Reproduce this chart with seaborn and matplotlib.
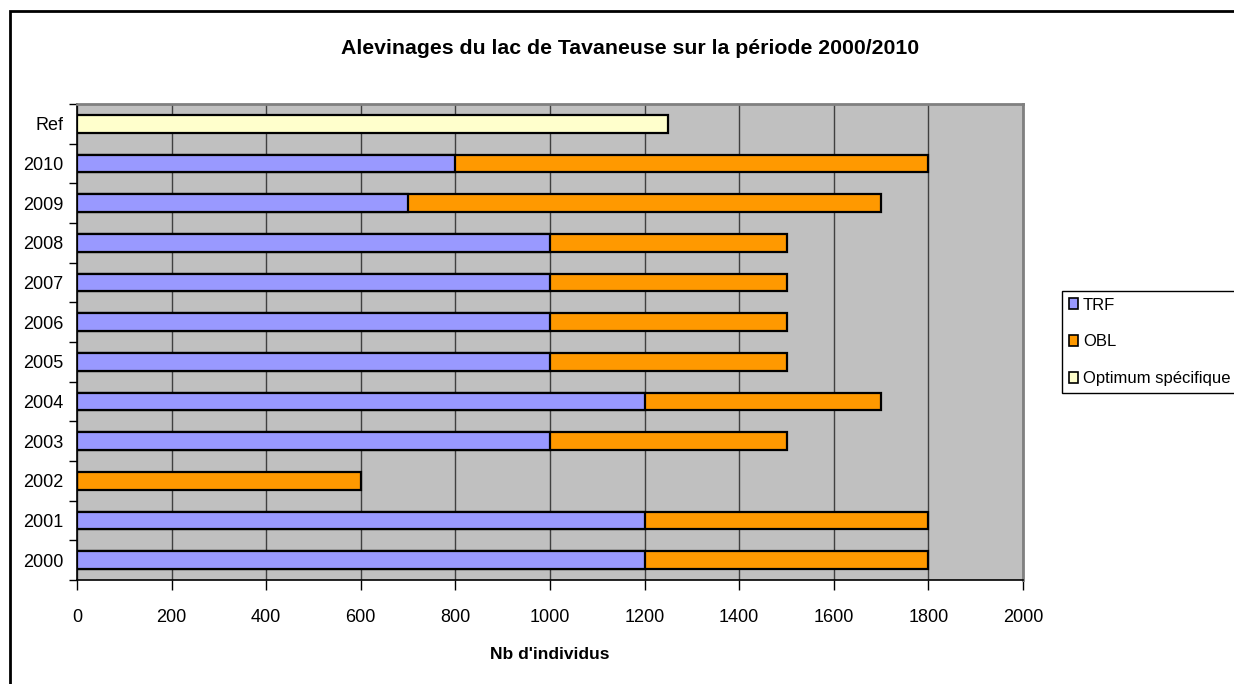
import numpy as np
import pandas as pd
import matplotlib
matplotlib.use("Agg")
import matplotlib.pyplot as plt
from matplotlib.patches import Patch, Rectangle
from matplotlib.ticker import FixedLocator
import seaborn as sns

# data
categories = ["Ref", "2010", "2009", "2008", "2007", "2006", "2005",
              "2004", "2003", "2002", "2001", "2000"]
trf = [np.nan, 800, 700, 1000, 1000, 1000, 1000, 1200, 1000, 0, 1200, 1200]
obl = [np.nan, 1000, 1000, 500, 500, 500, 500, 500, 500, 600, 600, 600]
optimum = [1250] + [np.nan] * 11
x_ticks = list(range(0, 2001, 200))

df = pd.DataFrame({"annee": categories, "TRF": trf, "OBL": obl, "Optimum": optimum})
df["total"] = df["TRF"] + df["OBL"]

sns.set_style("white")
plt.rcParams["font.family"] = ["Liberation Sans", "DejaVu Sans"]
plt.rcParams.update({"text.color": "black", "axes.labelcolor": "black",
                     "xtick.color": "black", "ytick.color": "black"})

fig = plt.figure(figsize=(12.34, 6.84), dpi=100)
ax = fig.add_axes([77 / 1234, 1 - 580 / 684, (1023 - 77) / 1234, (580 - 104) / 684])
ax.set_facecolor("#C0C0C0")

bar_kw = dict(orient="h", order=categories, width=0.44, edgecolor="black",
              linewidth=1.6, ax=ax)
sns.barplot(data=df, x="total", y="annee", color="#FF9900", saturation=1, **bar_kw)
sns.barplot(data=df, x="TRF", y="annee", color="#9999FF", saturation=1, **bar_kw)
sns.barplot(data=df, x="Optimum", y="annee", color="#FFFFCC", saturation=1, **bar_kw)

ax.set_xlim(0, 2000)
ax.set_xticks(x_ticks)
ax.set_axisbelow(True)
ax.xaxis.grid(True, color="#404040", linewidth=1)
ax.yaxis.grid(False)

# Excel-style category ticks between bars
ax.yaxis.set_minor_locator(FixedLocator(np.arange(-0.5, len(categories), 1.0)))
ax.tick_params(axis="y", which="major", length=0, pad=10, labelsize=13)
ax.tick_params(axis="y", which="minor", length=6, width=1, color="black", left=True)
ax.tick_params(axis="x", which="major", length=7, width=1, color="black",
               bottom=True, pad=14, labelsize=13)

for side in ["left", "bottom"]:
    ax.spines[side].set_color("black")
    ax.spines[side].set_linewidth(1.2)
for side in ["top", "right"]:
    ax.spines[side].set_color("#808080")
    ax.spines[side].set_linewidth(2)

ax.set_ylabel("")
ax.set_xlabel("Nb d'individus", fontsize=12.5, fontweight="bold", labelpad=15)

fig.text(630 / 1234, 1 - 49 / 684, "Alevinages du lac de Tavaneuse sur la période 2000/2010",
         ha="center", va="center", fontsize=15.3, fontweight="bold")

handles = [Patch(facecolor="#9999FF", edgecolor="black", linewidth=1.2, label="TRF"),
           Patch(facecolor="#FF9900", edgecolor="black", linewidth=1.2, label="OBL"),
           Patch(facecolor="#FFFFCC", edgecolor="black", linewidth=1.2,
                 label="Optimum spécifique")]
leg = fig.legend(handles=handles, loc="upper left",
                 bbox_to_anchor=(1062 / 1234, 1 - 291 / 684), fontsize=12,
                 frameon=True, fancybox=False, edgecolor="black", framealpha=1,
                 handlelength=0.55, handleheight=0.65, handletextpad=0.3,
                 labelspacing=1.3, borderpad=0.4, borderaxespad=0)
leg.get_frame().set_linewidth(1)

# chart border
fig.add_artist(Rectangle((10 / 1234, -0.1), 1.2, 1 - 11 / 684 + 0.1,
                         transform=fig.transFigure, fill=False,
                         edgecolor="black", linewidth=2))

fig.savefig("out.png", dpi=100)
